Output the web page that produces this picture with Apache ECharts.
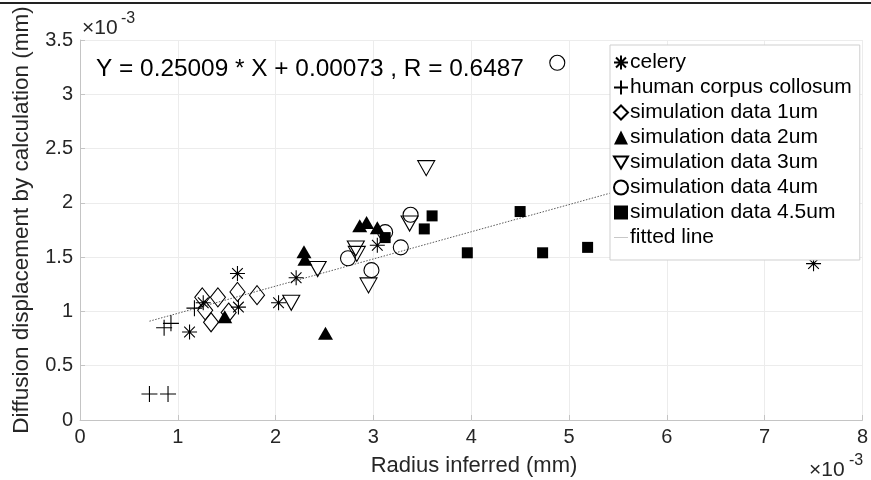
<!DOCTYPE html>
<html>
<head>
<meta charset="utf-8">
<script src="https://cdn.jsdelivr.net/npm/echarts@6/dist/echarts.min.js"></script>
<style>
html,body{margin:0;padding:0;background:#fff;}
#chart{width:871px;height:480px;}
</style>
</head>
<body>
<div id="chart"></div>
<script>
// ---- data (units of 1e-3 mm) ----
const xTicks = [0, 1, 2, 3, 4, 5, 6, 7, 8];
const yTicks = [0, 0.5, 1, 1.5, 2, 2.5, 3, 3.5];

const celeryX = [1.12, 1.26, 1.61, 1.62, 2.03, 2.21, 3.04, 7.50];
const celeryY = [0.81, 1.08, 1.35, 1.04, 1.08, 1.31, 1.61, 1.44];

const humanX = [0.71, 0.90, 0.86, 0.93, 1.17];
const humanY = [0.24, 0.24, 0.85, 0.89, 1.03];

const sim1X = [1.25, 1.41, 1.61, 1.81, 1.28, 1.34, 1.52];
const sim1Y = [1.13, 1.13, 1.18, 1.15, 1.01, 0.90, 0.99];

const sim2X = [1.48, 2.29, 2.30, 2.51, 2.86, 2.93, 3.04];
const sim2Y = [0.95, 1.55, 1.48, 0.80, 1.79, 1.82, 1.77];

const sim3X = [2.16, 2.43, 2.82, 2.83, 2.95, 3.37, 3.54];
const sim3Y = [1.08, 1.39, 1.58, 1.53, 1.24, 1.81, 2.32];

const sim4X = [2.74, 2.98, 3.12, 3.28, 3.38, 4.88];
const sim4Y = [1.49, 1.38, 1.73, 1.59, 1.89, 3.29];

const sim45X = [3.12, 3.52, 3.60, 3.96, 4.50, 4.73, 5.19];
const sim45Y = [1.68, 1.76, 1.88, 1.54, 1.92, 1.54, 1.59];

const fitX = [0.71, 7.50];
const fitY = [0.91, 2.61];

const seriesNames = ['celery', 'human corpus collosum', 'simulation data 1um', 'simulation data 2um',
  'simulation data 3um', 'simulation data 4um', 'simulation data 4.5um', 'fitted line'];
const equationText = 'Y = 0.25009 * X + 0.00073 , R = 0.6487';
const xName = 'Radius inferred (mm)';
const yName = 'Diffusion displacement by calculation (mm)';

// ---- build ----
const zip = (xs, ys) => xs.map((x, i) => [x, ys[i]]);
const FONT = '"Liberation Sans", Arial, Helvetica, sans-serif';
const TXT = '#262626';

const ASTERISK = 'path://M10,0 L10,20 M0,10 L20,10 M2.9,2.9 L17.1,17.1 M2.9,17.1 L17.1,2.9';
const PLUS = 'path://M10,0 L10,20 M0,10 L20,10';
const TRI_DOWN = 'path://M0,0 L20,0 L10,17 Z';
const LINE_ICON = 'path://M0,0 L30,0 L30,1 L0,1 Z';

function sc(name, data, symbol, size, filled) {
  return {
    name: name, type: 'scatter', data: data, symbol: symbol, symbolSize: size,
    itemStyle: {
      color: filled ? '#000' : 'rgba(255,255,255,0)',
      borderColor: '#000', borderWidth: filled ? 0 : 1.1, opacity: 1
    },
    emphasis: {disabled: true}, z: 3
  };
}

const legendData = seriesNames.map((n, i) => i === 7
  ? {name: n, icon: LINE_ICON, itemStyle: {color: '#8a8a8a', borderWidth: 0}}
  : {name: n});

const chart = echarts.init(document.getElementById('chart'), null, {renderer: 'canvas'});
chart.setOption({
  animation: false,
  backgroundColor: '#fff',
  grid: {left: 80, right: 4, top: 40, bottom: 60, containLabel: false},
  xAxis: {
    type: 'value', min: 0, max: 8, interval: 1,
    axisLine: {show: true, lineStyle: {color: '#c4c4c4', width: 1}},
    axisTick: {show: true, inside: true, length: 5, lineStyle: {color: '#c4c4c4'}},
    axisLabel: {color: TXT, fontSize: 20, fontFamily: FONT, margin: 7,
      formatter: v => String(xTicks[xTicks.indexOf(v)])},
    splitLine: {show: true, lineStyle: {color: '#ececec', width: 1}}
  },
  yAxis: {
    type: 'value', min: 0, max: 3.5, interval: 0.5,
    axisLine: {show: true, lineStyle: {color: '#c4c4c4', width: 1}},
    axisTick: {show: true, inside: true, length: 5, lineStyle: {color: '#c4c4c4'}},
    axisLabel: {color: TXT, fontSize: 20, fontFamily: FONT, margin: 7,
      formatter: v => String(yTicks[yTicks.indexOf(v)])},
    splitLine: {show: true, lineStyle: {color: '#ececec', width: 1}}
  },
  legend: {
    orient: 'vertical', left: 610, top: 45,
    padding: [7, 8, 12, 3],
    backgroundColor: '#fff', borderColor: '#cfcfcf', borderWidth: 1, borderRadius: 0,
    itemWidth: 14, itemHeight: 14, itemGap: 4,
    textStyle: {color: '#000', fontSize: 21, fontFamily: FONT, lineHeight: 21, padding: [0, 0, 0, -3]},
    data: legendData,
    selectedMode: false, z: 10
  },
  series: [
    sc(seriesNames[0], zip(celeryX, celeryY), ASTERISK, 15, false),
    sc(seriesNames[1], zip(humanX, humanY), PLUS, 16, false),
    sc(seriesNames[2], zip(sim1X, sim1Y), 'diamond', [15, 19], false),
    sc(seriesNames[3], zip(sim2X, sim2Y), 'triangle', [15, 13], true),
    sc(seriesNames[4], zip(sim3X, sim3Y), TRI_DOWN, [17, 15], false),
    sc(seriesNames[5], zip(sim4X, sim4Y), 'circle', 15, false),
    sc(seriesNames[6], zip(sim45X, sim45Y), 'rect', 11, true),
    {
      name: seriesNames[7], type: 'line', data: zip(fitX, fitY),
      symbol: 'none', showSymbol: false,
      lineStyle: {color: '#5a5a5a', width: 1, type: [1.5, 1.5]},
      itemStyle: {color: '#8a8a8a'},
      emphasis: {disabled: true}, z: 2
    }
  ],
  graphic: [
    {type: 'rect', left: 0, top: 2, shape: {width: 871, height: 2}, style: {fill: '#222'}, z: 20},
    {type: 'text', x: 96, y: 69, style: {text: equationText, fontSize: 24.4, fontFamily: FONT, fill: '#000', verticalAlign: 'middle', align: 'left'}, z: 20},
    {type: 'text', x: 82, y: 28, style: {text: '×10', fontSize: 21, fontFamily: FONT, fill: TXT, verticalAlign: 'middle'}, z: 20},
    {type: 'text', x: 121, y: 19, style: {text: '-3', fontSize: 16, fontFamily: FONT, fill: TXT, verticalAlign: 'middle'}, z: 20},
    {type: 'text', x: 809, y: 470, style: {text: '×10', fontSize: 21, fontFamily: FONT, fill: TXT, verticalAlign: 'middle'}, z: 20},
    {type: 'text', x: 849, y: 461, style: {text: '-3', fontSize: 16, fontFamily: FONT, fill: TXT, verticalAlign: 'middle'}, z: 20},
    {type: 'text', x: 474, y: 466, style: {text: xName, fontSize: 22, fontFamily: FONT, fill: TXT, align: 'center', verticalAlign: 'middle'}, z: 20},
    {type: 'text', x: 22, y: 220, rotation: Math.PI / 2, style: {text: yName, fontSize: 22.5, fontFamily: FONT, fill: TXT, align: 'center', verticalAlign: 'middle'}, z: 20}
  ]
});
</script>
</body>
</html>
